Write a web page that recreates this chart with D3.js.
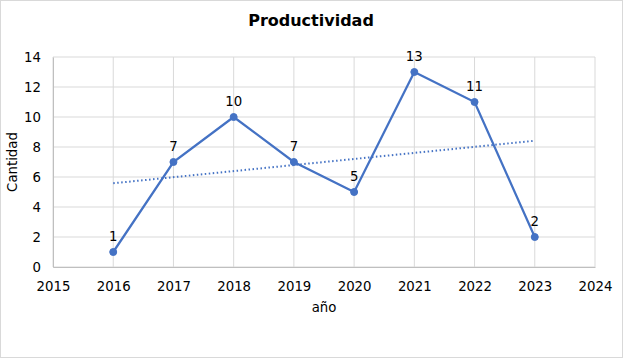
<!DOCTYPE html>
<html><head><meta charset="utf-8">
<script src="https://cdn.jsdelivr.net/npm/d3@7"></script>
<style>
body{margin:0;background:#fff;}
svg text{font-family:"DejaVu Sans",Verdana,sans-serif;}
</style></head>
<body><svg id="c" width="623" height="358"></svg>
<script>
const years = [2016, 2017, 2018, 2019, 2020, 2021, 2022, 2023];
const cantidad = [1, 7, 10, 7, 5, 13, 11, 2];
const xTicks = [2015, 2016, 2017, 2018, 2019, 2020, 2021, 2022, 2023, 2024];
const yTicks = [0, 2, 4, 6, 8, 10, 12, 14];

const svg = d3.select("#c");
const W = 623, H = 358;
const m = {l: 53, r: 28, t: 57, b: 91};
const x = d3.scaleLinear().domain([2015, 2024]).range([m.l, W - m.r]);
const y = d3.scaleLinear().domain([0, 14]).range([H - m.b, m.t]);
const blue = "#4472C4";
const FS = 13.3;

svg.append("rect").attr("x", 0.5).attr("y", 0.5).attr("width", W - 1).attr("height", H - 1)
  .attr("fill", "#fff").attr("stroke", "#d9d9d9");

// gridlines
svg.append("g").selectAll("line").data(yTicks).join("line")
  .attr("x1", x(2015)).attr("x2", x(2024)).attr("y1", d => y(d)).attr("y2", d => y(d))
  .attr("stroke", "#d9d9d9").attr("stroke-width", 1);
svg.append("g").selectAll("line").data(xTicks).join("line")
  .attr("x1", d => x(d)).attr("x2", d => x(d)).attr("y1", y(0)).attr("y2", y(14))
  .attr("stroke", "#d9d9d9").attr("stroke-width", 1);

// axes
const xAxis = svg.append("g").attr("transform", `translate(0,${y(0)})`)
  .call(d3.axisBottom(x).tickValues(xTicks).tickFormat(d3.format("d")).tickSize(0).tickPadding(15));
const yAxis = svg.append("g").attr("transform", `translate(${x(2015)},0)`)
  .call(d3.axisLeft(y).tickValues(yTicks).tickSize(0).tickPadding(12));
[xAxis, yAxis].forEach(a => {
  a.select(".domain").attr("stroke", "#bfbfbf");
  a.selectAll("text").attr("font-size", FS).attr("fill", "#000")
   .attr("font-family", '"DejaVu Sans",Verdana,sans-serif');
});

// trendline (least squares)
const mx = d3.mean(years), my = d3.mean(cantidad);
const slope = d3.sum(years, (d, i) => (d - mx) * (cantidad[i] - my)) / d3.sum(years, d => (d - mx) ** 2);
const trend = [years[0], years[years.length - 1]].map(d => [d, my + slope * (d - mx)]);
svg.append("line")
  .attr("x1", x(trend[0][0])).attr("y1", y(trend[0][1]))
  .attr("x2", x(trend[1][0])).attr("y2", y(trend[1][1]))
  .attr("stroke", blue).attr("stroke-width", 2).attr("stroke-dasharray", "1.5,2.5");

// series line
svg.append("path").datum(years.map((d, i) => [d, cantidad[i]]))
  .attr("fill", "none").attr("stroke", blue).attr("stroke-width", 2.25)
  .attr("d", d3.line().x(d => x(d[0])).y(d => y(d[1])));
svg.append("g").selectAll("circle").data(years).join("circle")
  .attr("cx", d => x(d)).attr("cy", (d, i) => y(cantidad[i])).attr("r", 3.5)
  .attr("fill", blue).attr("stroke", blue);

// data labels
svg.append("g").selectAll("text").data(years).join("text")
  .attr("x", d => x(d)).attr("y", (d, i) => y(cantidad[i]) - 11)
  .attr("text-anchor", "middle").attr("font-size", FS).attr("fill", "#000")
  .text((d, i) => cantidad[i]);

// titles
svg.append("text").attr("x", 311).attr("y", 26).attr("text-anchor", "middle")
  .attr("font-size", 16).attr("font-weight", "bold").attr("fill", "#000").text("Productividad");
svg.append("text").attr("x", x(2019.5)).attr("y", 312).attr("text-anchor", "middle")
  .attr("font-size", FS).attr("fill", "#000").text("año");
svg.append("text").attr("transform", `translate(17,${y(7)}) rotate(-90)`).attr("text-anchor", "middle")
  .attr("font-size", FS).attr("fill", "#000").text("Cantidad");
</script></body></html>
